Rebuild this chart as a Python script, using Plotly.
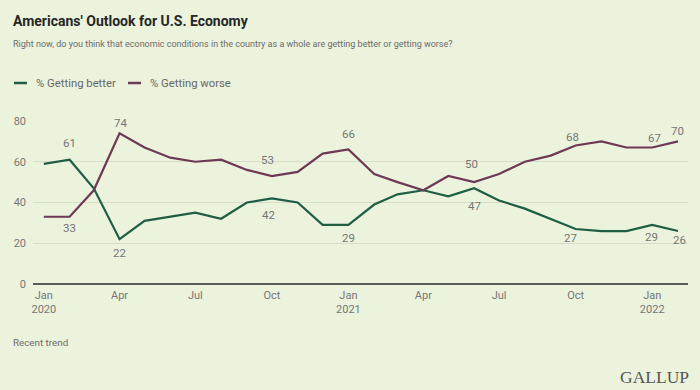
import plotly.graph_objects as go

# ---- data ----
months = ["2020-01", "2020-02", "2020-03", "2020-04", "2020-05", "2020-06", "2020-07",
          "2020-08", "2020-09", "2020-10", "2020-11", "2020-12", "2021-01", "2021-02",
          "2021-03", "2021-04", "2021-05", "2021-06", "2021-07", "2021-08", "2021-09",
          "2021-10", "2021-11", "2021-12", "2022-01", "2022-02"]
getting_better = [59, 61, 47, 22, 31, 33, 35, 32, 40, 42, 40, 29, 29, 39,
                  44, 46, 43, 47, 41, 37, 32, 27, 26, 26, 29, 26]
getting_worse = [33, 33, 46, 74, 67, 62, 60, 61, 56, 53, 55, 64, 66, 54,
                 50, 46, 53, 50, 54, 60, 63, 68, 70, 67, 67, 70]
labeled_months = ["2020-02", "2020-04", "2020-10", "2021-01", "2021-06", "2021-10", "2022-01", "2022-02"]
tick_months = ["2020-01", "2020-04", "2020-07", "2020-10", "2021-01", "2021-04",
               "2021-07", "2021-10", "2022-01"]
tick_labels = ["Jan<br>2020", "Apr", "Jul", "Oct", "Jan<br>2021", "Apr", "Jul", "Oct", "Jan<br>2022"]
series_names = ["% Getting better", "% Getting worse"]

# ---- styles ----
BG = "#ebf3dd"
GREEN = "#1f5d45"
PURPLE = "#6d3955"
LABEL = "#767676"
FONT = "Roboto, sans-serif"

# label offsets in px (xshift, yshift); positive yshift = above the point
better_offsets = {"2020-02": (0, 17), "2020-04": (0, -14), "2020-10": (-3, -17),
                  "2021-01": (0, -13), "2021-06": (0, -18), "2021-10": (-5, -9),
                  "2022-01": (-1, -12), "2022-02": (1, -9)}
worse_offsets = {"2020-02": (0, -11), "2020-04": (1, 10), "2020-10": (-4, 16),
                 "2021-01": (0, 16), "2021-06": (-3, 18), "2021-10": (-3, 8),
                 "2022-01": (2, 9), "2022-02": (-1, 10)}

PLOT_W = 655.0
PLOT_H = 163.0


def d(m):
    return m + "-01"


x = [d(m) for m in months]

fig = go.Figure()
fig.add_trace(go.Scatter(x=x, y=getting_better, mode="lines", name=series_names[0],
                         line=dict(color=GREEN, width=2.2), hoverinfo="skip", showlegend=False))
fig.add_trace(go.Scatter(x=x, y=getting_worse, mode="lines", name=series_names[1],
                         line=dict(color=PURPLE, width=2.2), hoverinfo="skip", showlegend=False))

for m in labeled_months:
    v = getting_better[months.index(m)]
    xs, ys = better_offsets[m]
    fig.add_annotation(x=d(m), y=v, text=str(v), showarrow=False, xshift=xs, yshift=ys,
                       font=dict(size=11.5, color=LABEL, family=FONT))
    w = getting_worse[months.index(m)]
    xs, ys = worse_offsets[m]
    fig.add_annotation(x=d(m), y=w, text=str(w), showarrow=False, xshift=xs, yshift=ys,
                       font=dict(size=11.5, color=LABEL, family=FONT))

# title & subtitle
fig.add_annotation(xref="paper", yref="paper", x=-22 / PLOT_W, y=1.0 + 100 / PLOT_H,
                   xanchor="left", yanchor="middle",
                   text="<b>Americans' Outlook for U.S. Economy</b>", showarrow=False,
                   font=dict(size=14, color="#262626", family=FONT))
fig.add_annotation(xref="paper", yref="paper", x=-22 / PLOT_W, y=1.0 + 77 / PLOT_H,
                   xanchor="left", yanchor="middle",
                   text="Right now, do you think that economic conditions in the country as a whole are getting better or getting worse?",
                   showarrow=False, font=dict(size=9, color="#6b6b6b", family=FONT))

# manual legend (short line swatches)
legend_items = [(series_names[0], GREEN, -19), (series_names[1], PURPLE, 95)]
for name, col, px in legend_items:
    fig.add_shape(type="line", xref="paper", yref="paper",
                  x0=px / PLOT_W, x1=(px + 13) / PLOT_W,
                  y0=1.0 + 38 / PLOT_H, y1=1.0 + 38 / PLOT_H,
                  line=dict(color=col, width=2.5))
    fig.add_annotation(xref="paper", yref="paper", x=(px + 20) / PLOT_W, y=1.0 + 38 / PLOT_H,
                       xanchor="left", yanchor="middle", text=name, showarrow=False,
                       font=dict(size=11.3, color="#666666", family=FONT))

# footer
fig.add_annotation(xref="paper", yref="paper", x=-22 / PLOT_W, y=-(342 - 284) / PLOT_H,
                   xanchor="left", yanchor="middle",
                   text="Recent trend", showarrow=False,
                   font=dict(size=9.8, color="#6b6b6b", family=FONT))
fig.add_annotation(xref="paper", yref="paper", x=1.0 + 3 / PLOT_W, y=-(377 - 284) / PLOT_H,
                   xanchor="right", yanchor="middle",
                   text="GALLUP", showarrow=False,
                   font=dict(size=17.5, color="#555555", family="Liberation Serif, DejaVu Serif, serif"))

fig.update_layout(
    width=700, height=390,
    paper_bgcolor=BG, plot_bgcolor=BG,
    margin=dict(l=33, r=12, t=121, b=106, autoexpand=False),
    font=dict(family=FONT, color=LABEL, size=11),
    showlegend=False,
    xaxis=dict(type="date", range=["2019-12-19", "2022-02-13"],
               tickvals=[d(m) for m in tick_months], ticktext=tick_labels,
               showgrid=False, zeroline=False, showline=False, ticks="",
               ticklabelstandoff=3,
               tickfont=dict(size=11, color=LABEL), automargin=False),
    yaxis=dict(range=[0, 80], tickvals=[0, 20, 40, 60, 80], showgrid=True,
               gridcolor="#d6ddca", gridwidth=1, zeroline=True, zerolinecolor="#5b5b5b",
               zerolinewidth=1.5, ticks="", ticklabelstandoff=6,
               tickfont=dict(size=11, color=LABEL), automargin=False),
)

fig.write_html("out.html", post_script="document.body.style.margin='0';",
               config={"displayModeBar": False})
